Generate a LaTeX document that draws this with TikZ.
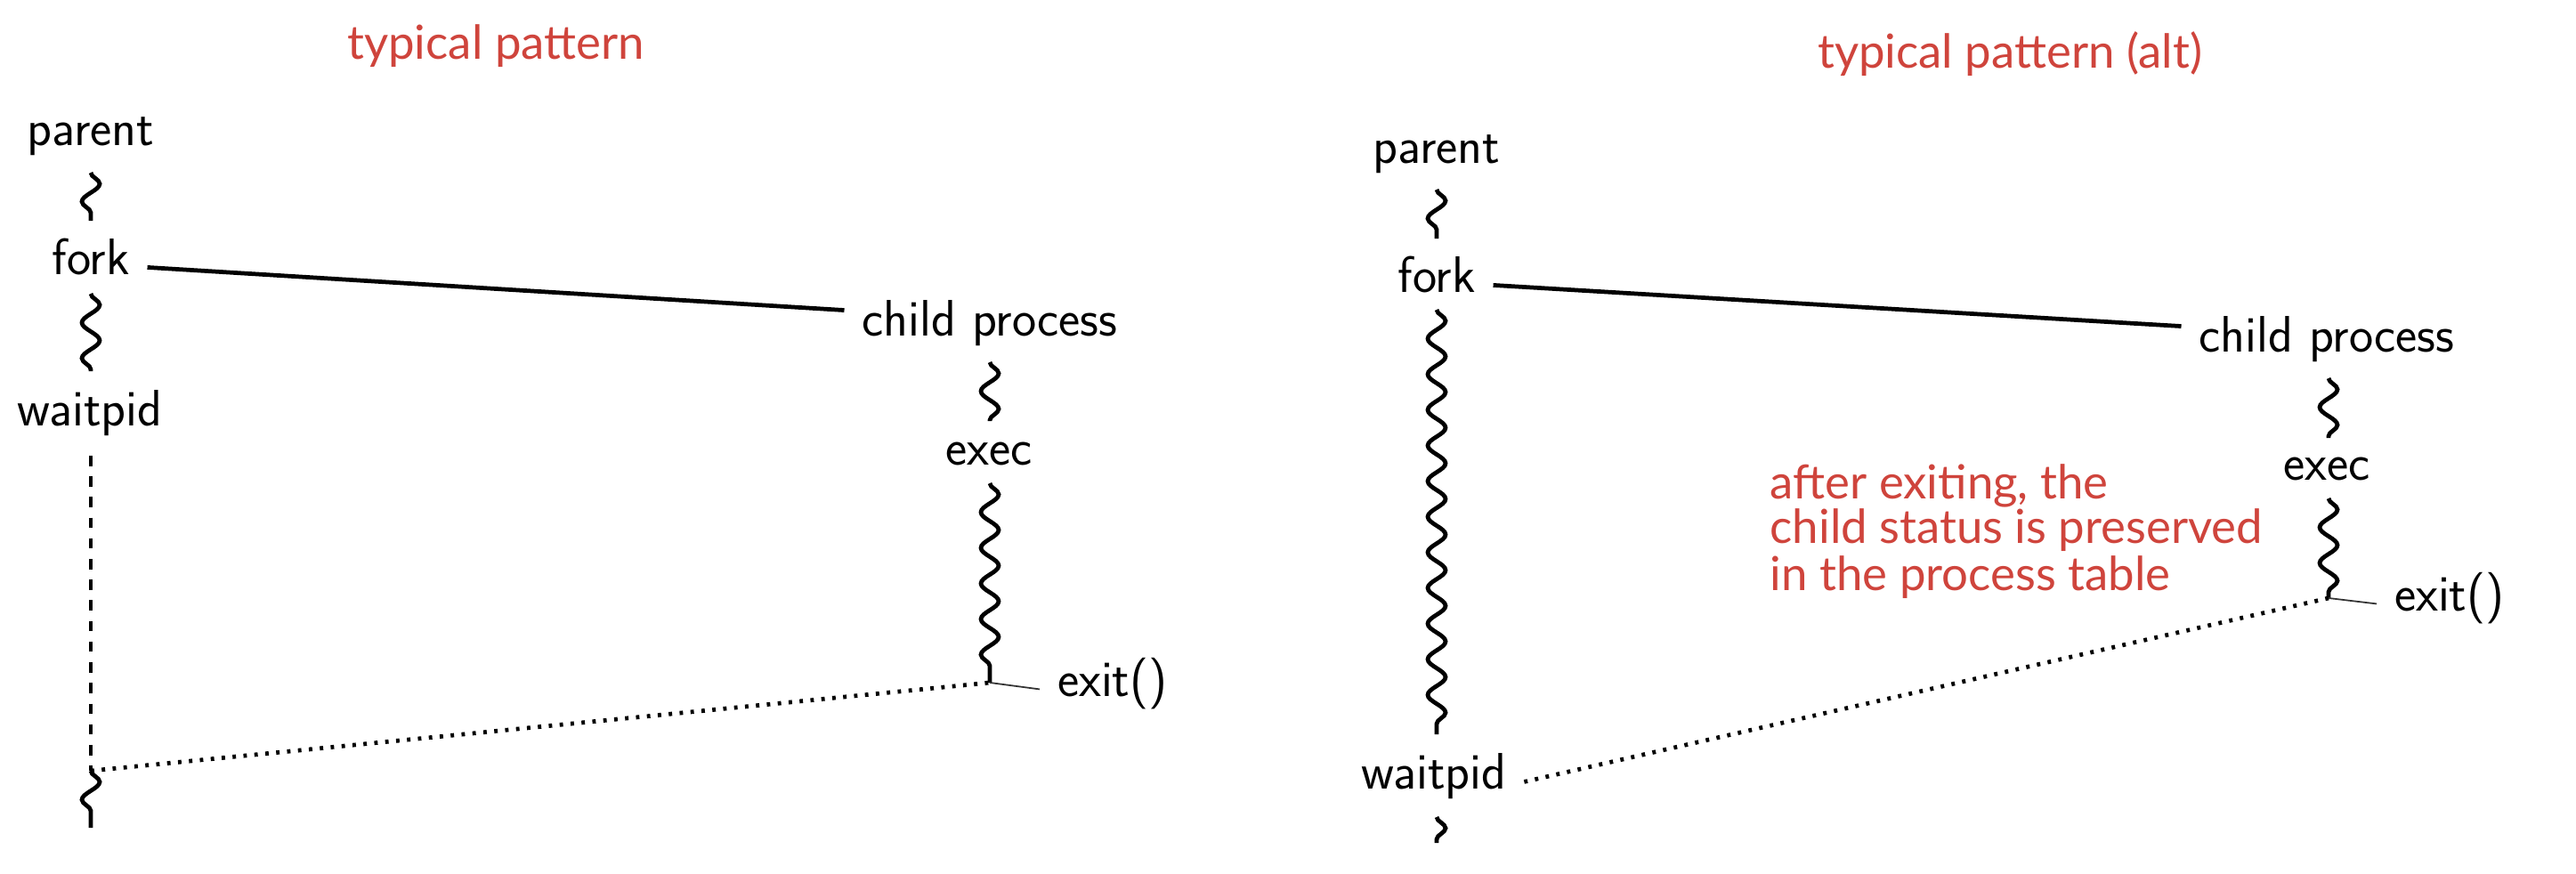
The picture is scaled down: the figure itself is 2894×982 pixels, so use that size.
\documentclass[tikz,border=0pt]{standalone}
\usepackage{fontspec}
\newfontfamily\handfont{Lato}
\usetikzlibrary{decorations.pathmorphing,calc}
\definecolor{annot}{RGB}{207,68,60}
\begin{document}
\begin{tikzpicture}[x=0.01cm,y=-0.01cm,
  lbl/.style={font=\sffamily\fontsize{16.4}{19}\selectfont, inner xsep=5.5pt, inner ysep=3pt},
  note/.style={font=\handfont\fontsize{15}{18}\selectfont, text=annot, inner sep=0pt},
  squig/.style={line width=1.35pt, decorate, decoration={snake, segment length=0.4cm, amplitude=0.1cm}},
  forkline/.style={line width=1.35pt},
  waitline/.style={line width=1.35pt, dash pattern=on 3.3pt off 3.3pt},
  exitline/.style={line width=1.35pt, dash pattern=on 1.1pt off 2.4pt},
  thinline/.style={line width=0.5pt, black!80}]
\useasboundingbox[fill=white] (0,0) rectangle (2894,982);

% ---------- left: typical pattern ----------
\node[note, anchor=base] (title1) at (557,67) {typical pattern};

\node[lbl, anchor=base] (parent1) at (102,163) {parent};
\node[lbl, anchor=base] (fork1) at (102,308) {fork};
\node[lbl, anchor=base] (waitpid1) at (101,478) {waitpid};
\node[lbl, anchor=base] (child1) at (1112,377) {child process};
\node[lbl, anchor=base] (exec1) at (1111,522) {exec};
\node[lbl, anchor=base west] (exit1) at (1168,782) {exit()};

\coordinate (s1a) at (102,194);
\coordinate (s1b) at (102,248);
\coordinate (s2a) at (102,330);
\coordinate (s2b) at (102,417);
\coordinate (d1) at (102,512);
\coordinate (j1) at (102,866);
\coordinate (e1) at (102,930);
\coordinate (s3a) at (1112,407);
\coordinate (s3b) at (1112,473);
\coordinate (s4a) at (1112,543);
\coordinate (x1) at (1112,767);

\draw[squig] (s1a) -- (s1b);
\draw[squig] (s2a) -- (s2b);
\draw[forkline] (fork1.mid east) -- ([yshift=4pt]child1.west);
\draw[squig] (s3a) -- (s3b);
\draw[squig] (s4a) -- (x1);
\draw[thinline] (x1) -- (exit1.mid west);
\draw[waitline] (d1) -- (j1);
\draw[exitline] (j1) -- (x1);
\draw[squig] (j1) -- (e1);

% ---------- right: typical pattern (alt) ----------
\node[note, anchor=base] (title2) at (2258,77) {typical pattern (alt)};

\node[lbl, anchor=base] (parent2) at (1614,183) {parent};
\node[lbl, anchor=base] (fork2) at (1614,328) {fork};
\node[lbl, anchor=base] (waitpid2) at (1611,886) {waitpid};
\node[lbl, anchor=base] (child2) at (2614,395) {child process};
\node[lbl, anchor=base] (exec2) at (2614,539) {exec};
\node[lbl, anchor=base west] (exit2) at (2670,686) {exit()};

\node[note, anchor=base west] (note1) at (1988,560) {after exiting, the};
\node[note, anchor=base west] (note2) at (1988,610) {child status is preserved};
\node[note, anchor=base west] (note3) at (1988,663) {in the process table};

\coordinate (r1a) at (1614,213);
\coordinate (r1b) at (1614,268);
\coordinate (r2a) at (1614,348);
\coordinate (r2b) at (1614,825);
\coordinate (r3a) at (1614,918);
\coordinate (r3b) at (1614,947);
\coordinate (r4a) at (2616,425);
\coordinate (r4b) at (2616,492);
\coordinate (r5a) at (2616,560);
\coordinate (x2) at (2616,672);

\draw[squig] (r1a) -- (r1b);
\draw[squig] (r2a) -- (r2b);
\draw[squig] (r3a) -- (r3b);
\draw[forkline] (fork2.mid east) -- ([yshift=4pt]child2.west);
\draw[squig] (r4a) -- (r4b);
\draw[squig] (r5a) -- (x2);
\draw[thinline] (x2) -- (exit2.mid west);
\draw[exitline] (waitpid2.mid east) -- (x2);
\end{tikzpicture}
\end{document}
